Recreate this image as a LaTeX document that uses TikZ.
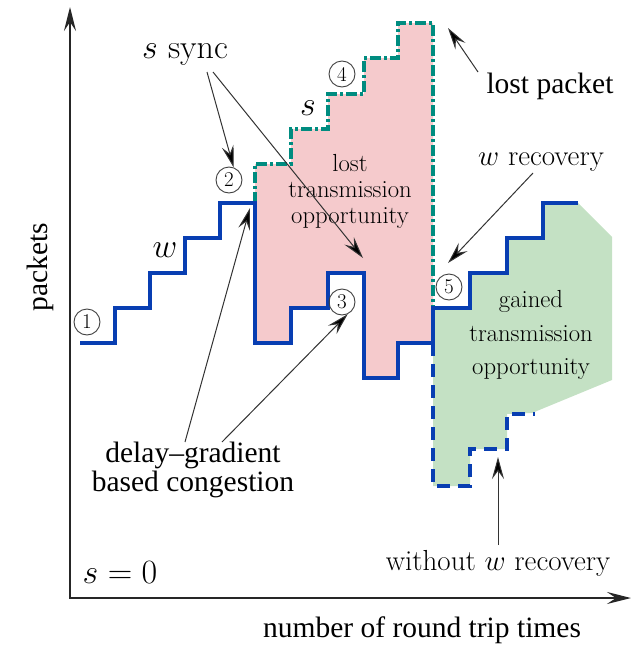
\documentclass[tikz,border=0pt]{standalone}
\usepackage{fix-cm}
\usepackage{fontspec}
\newfontfamily\timesf{Liberation Serif}
\usetikzlibrary{arrows.meta}
\definecolor{wblue}{RGB}{8,62,178}
\definecolor{steal}{RGB}{0,140,128}
\definecolor{lostfill}{RGB}{245,202,204}
\definecolor{gainfill}{RGB}{196,225,196}
\tikzset{
  wline/.style={draw=wblue, line width=4pt, line join=miter},
  wdash/.style={draw=wblue, line width=4pt, dash pattern=on 13pt off 8pt},
  sline/.style={draw=steal, line width=3.5pt, dash pattern=on 11pt off 3pt on 3pt off 3pt},
  ann/.style={draw=black!80, line width=1pt, -{Stealth[length=22pt,width=12pt,inset=8pt,fill=black]}},
  axisline/.style={draw=black!85, line width=1.8pt},
  num/.style={circle, draw=black!75, line width=0.9pt, minimum size=26pt, inner sep=0pt,
              font=\fontsize{21}{21}\selectfont},
  big/.style={font=\fontsize{34}{38}\selectfont, inner sep=0pt},
  mid/.style={font=\fontsize{29}{32}\selectfont, inner sep=0pt},
  reg/.style={align=center, inner sep=0pt},
  tms/.style={font=\timesf\fontsize{29.5}{29}\selectfont, inner sep=0pt},
}
\begin{document}
\begin{tikzpicture}[x=1pt,y=-1pt]
\useasboundingbox (0,0) rectangle (639,648);

% shaded areas
\fill[lostfill] (255,203) -- (255,164) -- (291,164) -- (291,129) -- (328,129) -- (328,94)
  -- (364,94) -- (364,58) -- (398,58) -- (398,23) -- (433,23) -- (433,343)
  -- (398,343) -- (398,378) -- (364,378) -- (364,273) -- (328,273) -- (328,308)
  -- (291,308) -- (291,343) -- (255,343) -- cycle;
\fill[gainfill] (433,308) -- (470,308) -- (470,273) -- (507,273) -- (507,238) -- (543,238)
  -- (543,203) -- (578,203) -- (612,237) -- (612,380) -- (532,413) -- (507,414)
  -- (507,449) -- (470,449) -- (470,486) -- (433,486) -- cycle;

% axes
\coordinate (ytip) at (70,7);
\coordinate (orig) at (70,598);
\coordinate (xtip) at (631,598);
\draw[axisline, {Stealth[length=24pt,width=12pt,inset=9pt]}-{Stealth[length=24pt,width=12pt,inset=9pt]}]
  (ytip) -- (orig) -- (xtip);

% window with synchronisation
\draw[sline] (255,203) -- (255,164) -- (291,164) -- (291,129) -- (328,129) -- (328,94)
  -- (364,94) -- (364,58) -- (398,58) -- (398,23) -- (433,23) -- (433,308);

% window evolution
\draw[wline] (80,343) -- (115,343) -- (115,308) -- (150,308) -- (150,273) -- (185,273)
  -- (185,238) -- (220,238) -- (220,203) -- (255,203) -- (255,343) -- (291,343)
  -- (291,308) -- (328,308) -- (328,273) -- (364,273) -- (364,378) -- (398,378)
  -- (398,343) -- (433,343) -- (433,308) -- (470,308) -- (470,273) -- (507,273)
  -- (507,238) -- (543,238) -- (543,203) -- (578,203);
\draw[wdash] (433,343) -- (433,486) -- (470,486) -- (470,449) -- (507,449) -- (507,414)
  -- (535,414);

% numbered events
\node[num] (n1) at (87,322) {1};
\node[num] (n2) at (229,180) {2};
\node[num] (n3) at (342,302) {3};
\node[num] (n4) at (342,74) {4};
\node[num] (n5) at (449,287) {5};

% labels
\node[big, anchor=base] (ssync) at (185,58) {$s$ sync};
\node[big, anchor=base] (slab) at (308,115) {$s$};
\node[big, anchor=base] (wlab) at (165,257) {$w$};
\node[big, anchor=base] (szero) at (120,583) {$s=0$};
\node[mid, anchor=base] (wrec) at (541,165) {$w$ recovery};
\node[mid, anchor=base] (worec) at (498,570) {without $w$ recovery};
\node[tms, anchor=base] (lostp) at (550,93) {lost packet};
\node[tms, anchor=base] (xlab) at (422,637) {number of round trip times};
\node[tms, anchor=base, rotate=90] (ylab) at (47,267) {packets};
\node[tms, align=center] (dgc) at (193,470) {delay–gradient\\based congestion};
\node[reg, font=\fontsize{24.7}{26}\selectfont] (lto) at (350,191)
  {lost\\transmission\\opportunity};
\node[reg, font=\fontsize{24.7}{33.5}\selectfont] (gto) at (531,335)
  {gained\\transmission\\opportunity};

% pointers
\coordinate (p1a) at (207,72);
\coordinate (p1b) at (213,72);
\coordinate (p1t) at (363,258);
\coordinate (lps) at (478,72);
\coordinate (lpt) at (448,28);
\coordinate (wrs) at (533,173);
\coordinate (wrt) at (448,263);
\coordinate (dgs1) at (185,442);
\coordinate (dgt1) at (250,208);
\coordinate (dgs2) at (222,442);
\coordinate (wos) at (498,545);
\coordinate (wot) at (498,457);
\draw[ann] (p1a) -- (n2.70);
\draw[ann] (p1b) -- (p1t);
\draw[ann] (lps) -- (lpt);
\draw[ann] (wrs) -- (wrt);
\draw[ann] (dgs1) -- (dgt1);
\draw[ann] (dgs2) -- (n3.-65);
\draw[ann] (wos) -- (wot);
\end{tikzpicture}
\end{document}
